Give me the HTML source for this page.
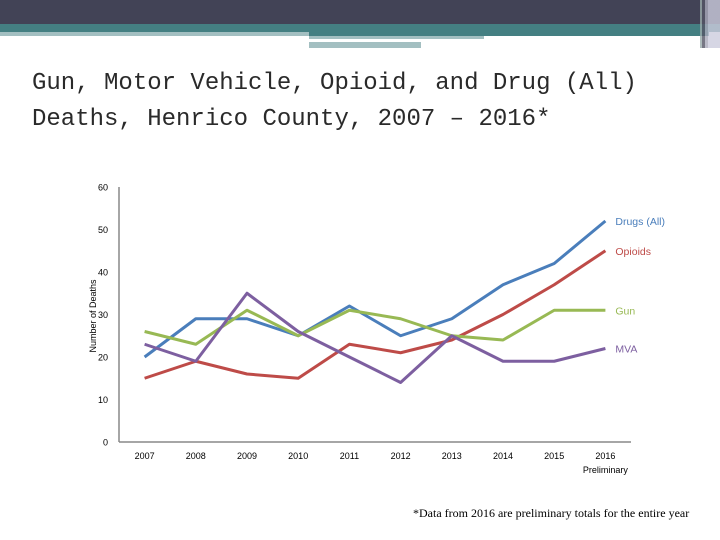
<!DOCTYPE html>
<html><head><meta charset="utf-8"><style>
body{margin:0;width:720px;height:540px;overflow:hidden;background:#fff;position:relative;font-family:"Liberation Sans",sans-serif}
.abs{position:absolute}
</style></head><body>
<div class="abs" style="left:0;top:0;width:720px;height:24px;background:#424356"></div>
<div class="abs" style="left:0;top:24px;width:720px;height:8px;background:#447f82"></div>
<div class="abs" style="left:0;top:32px;width:309px;height:4px;background:#a3bfc1"></div>
<div class="abs" style="left:309px;top:32px;width:400px;height:4px;background:#447f82"></div>
<div class="abs" style="left:309px;top:36px;width:175px;height:3px;background:#a3bfc1"></div>
<div class="abs" style="left:309px;top:42px;width:112px;height:6px;background:#a3bfc1"></div>
<div class="abs" style="left:700px;top:0;width:20px;height:48px;background:linear-gradient(90deg,#9aa 0 2px,#556 2px 5px,#aab 5px 8px,#ccd 8px 20px);opacity:.8"></div>
<div class="abs" style="left:32px;top:66px;font-family:'Liberation Mono',monospace;font-size:24px;line-height:36px;color:#2a2a2a">Gun, Motor Vehicle, Opioid, and Drug (All)<br>Deaths, Henrico County, 2007 – 2016*</div>
<svg class="abs" style="left:0;top:0" width="720" height="540" id="chart"></svg>
<div class="abs" style="left:413px;top:506px;font-family:'Liberation Serif',serif;font-size:12px;color:#000;white-space:nowrap">*Data from 2016 are preliminary totals for the entire year</div>
<script>
const categories=["2007","2008","2009","2010","2011","2012","2013","2014","2015","2016"];
const drugs=[20,29,29,25,32,25,29,37,42,52];
const opioids=[15,19,16,15,23,21,24,30,37,45];
const gun=[26,23,31,25,31,29,25,24,31,31];
const mva=[23,19,35,26,20,14,25,19,19,22];
const yTicks=[0,10,20,30,40,50,60];
const seriesNames=["Drugs (All)","Opioids","Gun","MVA"];
const NS="http://www.w3.org/2000/svg";
const svg=document.getElementById('chart');
const x0=119,step=51.2,yBase=442,yTop=187,yMax=60;
const X=i=>x0+step*(i+0.5);
const Y=v=>yBase-(v/yMax)*(yBase-yTop);
function mk(t,a){const e=document.createElementNS(NS,t);for(const k in a)e.setAttribute(k,a[k]);svg.appendChild(e);return e;}
let ax=mk('line',{x1:x0,y1:yTop,x2:x0,y2:yBase,stroke:'#888','stroke-width':1.5});


ax=mk('line',{x1:x0,y1:yBase,x2:x0+step*categories.length,y2:yBase,stroke:'#888','stroke-width':1.5});


yTicks.forEach(v=>{const t=mk('text',{x:x0-11,y:Y(v)+3.5,'text-anchor':'end','font-size':9,fill:'#000'});t.textContent=v;

});
categories.forEach((c,i)=>{const t=mk('text',{x:X(i),y:459,'text-anchor':'middle','font-size':9,fill:'#000'});t.textContent=c;

});
const pre=mk('text',{x:X(9),y:473,'text-anchor':'middle','font-size':9,fill:'#000'});pre.textContent='Preliminary';


const yt=mk('text',{x:0,y:0,'text-anchor':'middle','font-size':9,fill:'#000',transform:'translate(96,316) rotate(-90)'});yt.textContent='Number of Deaths';


const series=[[drugs,'#4a7ebb'],[opioids,'#be4b48'],[gun,'#98b954'],[mva,'#7d5fa0']];
series.forEach(([d,col],k)=>{
 const p=mk('polyline',{points:d.map((v,i)=>X(i)+','+Y(v)).join(' '),fill:'none',stroke:col,'stroke-width':3,'stroke-linejoin':'round'});
 
 
 const t=mk('text',{x:X(9)+10,y:Y(d[9])+4,'font-size':10.5,fill:col});t.textContent=seriesNames[k];
 
 
});
</script>
</body></html>
